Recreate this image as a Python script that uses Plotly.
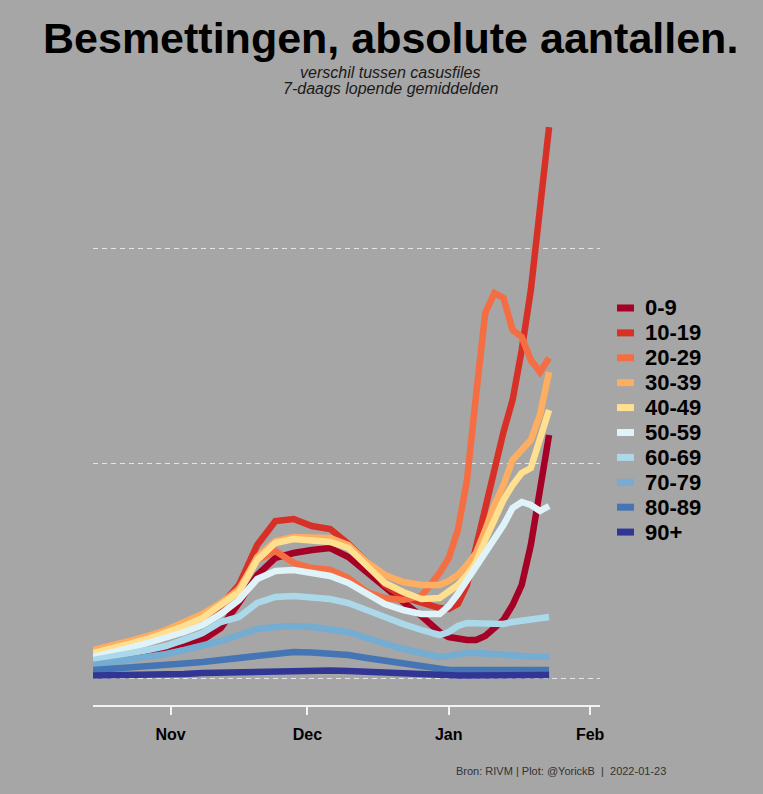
import plotly.graph_objects as go

dates = ["2021-10-15", "2021-10-19", "2021-10-23", "2021-10-27", "2021-10-31",
         "2021-11-04", "2021-11-08", "2021-11-12", "2021-11-16", "2021-11-20",
         "2021-11-24", "2021-11-28", "2021-12-02", "2021-12-06", "2021-12-10",
         "2021-12-14", "2021-12-18", "2021-12-22", "2021-12-26", "2021-12-30",
         "2022-01-01", "2022-01-03", "2022-01-05", "2022-01-07", "2022-01-09",
         "2022-01-11", "2022-01-13", "2022-01-15", "2022-01-17", "2022-01-19",
         "2022-01-21", "2022-01-23"]

age_groups = ["0-9", "10-19", "20-29", "30-39", "40-49",
              "50-59", "60-69", "70-79", "80-89", "90+"]

colors = ["#a50026", "#d73027", "#f46d43", "#fdae61", "#fee090",
          "#e0f3f8", "#abd9e9", "#74add1", "#4575b4", "#313695"]

v_0_9 = [465, 488, 535, 558, 605, 721, 884, 1163, 1744, 2395, 2791, 2907, 2977, 3023, 2814,
         2465, 2070, 1767, 1442, 1070, 953, 907, 884, 884, 977, 1163, 1349, 1698, 2163, 3093,
         4488, 5651]
v_10_19 = [628, 721, 814, 930, 1047, 1209, 1395, 1674, 2163, 3093, 3651, 3698, 3535, 3465, 3116,
           2698, 2163, 1884, 1744, 1628, 1605, 1721, 2163, 3093, 4023, 4837, 5721, 6465, 7628, 9023,
           11000, 12814]
v_20_29 = [605, 698, 791, 907, 1047, 1233, 1442, 1698, 2093, 2744, 2953, 2674, 2558, 2512, 2326,
           2000, 1860, 1814, 1907, 2442, 2791, 3442, 4605, 6581, 8488, 8953, 8837, 8093, 7930, 7395,
           7116, 7442]
v_30_39 = [651, 744, 860, 977, 1116, 1302, 1488, 1744, 2047, 2814, 3186, 3279, 3279, 3256, 3093,
           2698, 2395, 2233, 2163, 2163, 2256, 2395, 2628, 2907, 3442, 4023, 4488, 5070, 5302, 5535,
           6116, 7116]
v_40_49 = [581, 674, 791, 907, 1047, 1209, 1395, 1698, 2000, 2744, 3140, 3233, 3209, 3163, 3023,
           2605, 2209, 2000, 1837, 1860, 2000, 2163, 2395, 2698, 3209, 3721, 4140, 4488, 4767, 4884,
           5535, 6233]
v_50_59 = [488, 581, 698, 814, 930, 1070, 1233, 1488, 1814, 2302, 2488, 2512, 2442, 2372, 2209,
           1953, 1721, 1581, 1488, 1488, 1674, 1953, 2279, 2605, 2907, 3209, 3558, 3953, 4093, 4023,
           3884, 4000]
v_60_69 = [419, 488, 558, 651, 744, 884, 1047, 1302, 1419, 1744, 1884, 1907, 1884, 1837, 1744,
           1581, 1395, 1256, 1116, 1000, 1070, 1209, 1279, 1279, 1256, 1256, 1256, 1302, 1326, 1349,
           1372, 1419]
v_70_79 = [302, 360, 419, 488, 558, 651, 744, 860, 1000, 1140, 1186, 1209, 1186, 1140, 1070,
           930, 791, 674, 581, 488, 512, 558, 581, 581, 558, 535, 535, 523, 512, 512,
           488, 488]
v_80_89 = [186, 209, 233, 267, 302, 337, 372, 419, 465, 535, 581, 605, 593, 570, 535,
           465, 395, 326, 256, 209, 186, 186, 174, 174, 186, 186, 186, 186, 186, 186,
           186, 186]
v_90 = [58, 58, 70, 70, 81, 93, 116, 128, 140, 163, 174, 186, 186, 174, 163,
        140, 116, 93, 70, 58, 58, 58, 58, 58, 58, 58, 58, 58, 70, 70,
        70, 70]

series = [v_0_9, v_10_19, v_20_29, v_30_39, v_40_49,
          v_50_59, v_60_69, v_70_79, v_80_89, v_90]

tick_vals = ["2021-11-01", "2021-12-01", "2022-01-01", "2022-02-01"]
tick_text = ["Nov", "Dec", "Jan", "Feb"]
grid_vals = [0, 5000, 10000]

title = "Besmettingen, absolute aantallen."
subtitle1 = "verschil tussen casusfiles"
subtitle2 = "7-daags lopende gemiddelden"
caption = "Bron: RIVM | Plot: @YorickB  |  2022-01-23"

BG = "#a6a6a6"
FONT = "Liberation Sans, Arial, sans-serif"

fig = go.Figure()
for name, vals, col in zip(age_groups, series, colors):
    fig.add_trace(go.Scatter(x=dates, y=vals, mode="lines", name=name,
                             line=dict(color=col, width=6.5), showlegend=False))

# manual legend (compact spacing like the reference)
leg_x0, leg_x1, leg_tx = 1.0335, 1.067, 1.0848
leg_top, leg_step = 0.6617, 0.0415
shapes = []
annotations = []
for i, (name, col) in enumerate(zip(age_groups, colors)):
    yy = leg_top - i * leg_step
    shapes.append(dict(type="line", xref="paper", yref="paper",
                       x0=leg_x0, x1=leg_x1, y0=yy, y1=yy,
                       line=dict(color=col, width=7)))
    annotations.append(dict(xref="paper", yref="paper", x=leg_tx, y=yy,
                            xanchor="left", yanchor="middle", showarrow=False,
                            text="<b>%s</b>" % name,
                            font=dict(family=FONT, size=22, color="#000000")))

annotations += [
    dict(xref="paper", yref="paper", x=0.5858, y=1.1117, xanchor="center", yanchor="middle",
         showarrow=False, text="<b>%s</b>" % title,
         font=dict(family=FONT, size=43, color="#000000")),
    dict(xref="paper", yref="paper", x=0.5858, y=1.055, xanchor="center", yanchor="middle",
         showarrow=False, text="<i>%s</i>" % subtitle1,
         font=dict(family=FONT, size=16, color="#1a1a1a")),
    dict(xref="paper", yref="paper", x=0.5858, y=1.0283, xanchor="center", yanchor="middle",
         showarrow=False, text="<i>%s</i>" % subtitle2,
         font=dict(family=FONT, size=16, color="#1a1a1a")),
    dict(xref="paper", yref="paper", x=0.924, y=-0.11, xanchor="center", yanchor="middle",
         showarrow=False, text=caption,
         font=dict(family=FONT, size=11, color="#333333")),
]

fig.update_layout(
    width=763, height=794,
    margin=dict(l=93, r=163, t=105, b=89),
    paper_bgcolor=BG, plot_bgcolor=BG,
    font=dict(family=FONT),
    shapes=shapes, annotations=annotations,
    xaxis=dict(type="date", range=["2021-10-15", "2022-02-03 04:00"],
               tickvals=tick_vals, ticktext=tick_text,
               showgrid=False, zeroline=False,
               showline=True, linecolor="#f2f2f2", linewidth=1.5,
               ticks="outside", tickcolor="#f2f2f2", tickwidth=1.5, ticklen=8,
               tickfont=dict(family=FONT, size=16, color="#000000", weight="bold"),
               ticklabelstandoff=6),
    yaxis=dict(range=[-628, 13326], tickvals=grid_vals, showticklabels=False,
               showgrid=True, gridcolor="rgba(240,240,240,0.85)", gridwidth=1.2,
               griddash="5px,4px", zeroline=False, showline=False, ticks=""),
)

fig.write_html("out.html")
